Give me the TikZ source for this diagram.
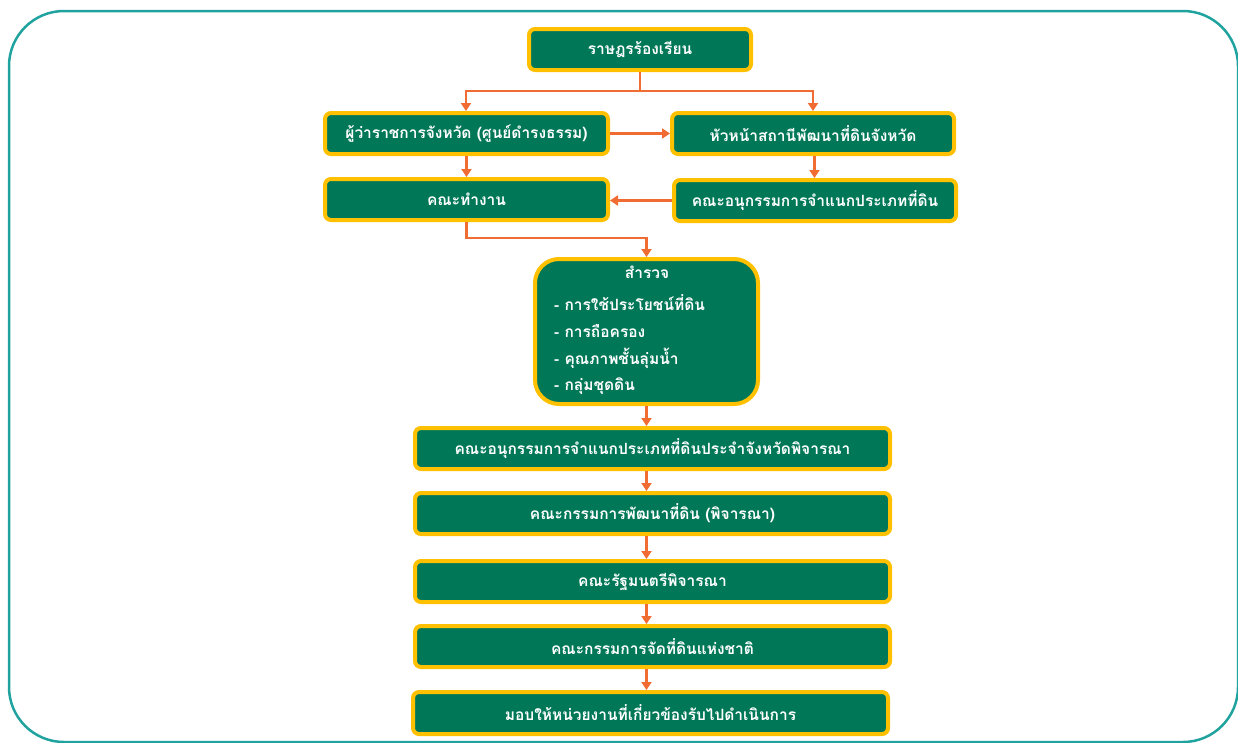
\documentclass[tikz,border=0pt]{standalone}
\usepackage{fontspec}
\newfontfamily\thaifont[Script=Thai]{Loma}
\usetikzlibrary{arrows.meta}
\definecolor{boxgreen}{RGB}{0,120,88}
\definecolor{boxyellow}{RGB}{255,192,0}
\definecolor{arrorange}{RGB}{240,108,50}
\definecolor{frameteal}{RGB}{32,163,158}
\tikzset{
  box/.style={draw=boxyellow, line width=4pt, fill=boxgreen, rounded corners=6pt,
    text=white, font=\thaifont\bfseries\fontsize{15.5}{18}\selectfont, inner sep=0pt},
  txt/.style={text=white, font=\thaifont\bfseries\fontsize{15.5}{18}\selectfont, inner sep=0pt},
  conn/.style={draw=arrorange, line width=2.4pt, -{Triangle[length=8pt,width=10pt]}},
  connplain/.style={draw=arrorange, line width=2.4pt}
}
\begin{document}
\begin{tikzpicture}[x=1pt,y=-1pt]
\useasboundingbox (0,0) rectangle (1238,742);
\draw[frameteal, line width=2.5pt, rounded corners=55pt] (9,11) rectangle (1238,742);

\node[box, minimum width=222pt, minimum height=41pt] (b1) at (640,49.5) {ราษฎรร้องเรียน};
\node[box, minimum width=283pt, minimum height=41pt] (b2) at (466.5,133.5) {ผู้ว่าราชการจังหวัด (ศูนย์ดำรงธรรม)};
\node[box, minimum width=282pt, minimum height=41pt] (b3) at (813,133.5) {หัวหน้าสถานีพัฒนาที่ดินจังหวัด};
\node[box, minimum width=283pt, minimum height=41pt] (b4) at (466.5,199.5) {คณะทำงาน};
\node[box, minimum width=282pt, minimum height=41pt] (b5) at (815,200.5) {คณะอนุกรรมการจำแนกประเภทที่ดิน};
\node[box, rounded corners=24pt, minimum width=223pt, minimum height=145pt] (b6) at (646.5,331.5) {};
\node[txt] (s0) at (647,272) {สำรวจ};
\node[txt, anchor=west] (s1) at (554,303) {- การใช้ประโยชน์ที่ดิน};
\node[txt, anchor=west] (s2) at (554,331) {- การถือครอง};
\node[txt, anchor=west] (s3) at (554,358) {- คุณภาพชั้นลุ่มน้ำ};
\node[txt, anchor=west] (s4) at (554,386) {- กลุ่มชุดดิน};
\node[box, minimum width=475pt, minimum height=41pt] (b7) at (652.5,448.5) {คณะอนุกรรมการจำแนกประเภทที่ดินประจำจังหวัดพิจารณา};
\node[box, minimum width=475pt, minimum height=41pt] (b8) at (652.5,513.5) {คณะกรรมการพัฒนาที่ดิน (พิจารณา)};
\node[box, minimum width=475pt, minimum height=41pt] (b9) at (652.5,581.5) {คณะรัฐมนตรีพิจารณา};
\node[box, minimum width=475pt, minimum height=41pt] (b10) at (652.5,646.5) {คณะกรรมการจัดที่ดินแห่งชาติ};
\node[box, minimum width=475pt, minimum height=42pt] (b11) at (650.5,713) {มอบให้หน่วยงานที่เกี่ยวข้องรับไปดำเนินการ};

\coordinate (j1) at (640,91);
\draw[connplain] (b1.south) -- (j1);
\draw[conn] (j1) -| ([xshift=-0.5pt]b2.north);
\draw[conn] (j1) -| (b3.north);
\draw[conn] (b2.east) -- (b3.west);
\draw[conn] (b2.south) -- (b4.north);
\draw[conn] ([xshift=1.5pt]b3.south) -- ([xshift=-0.5pt]b5.north);
\draw[conn] (b5.west) -- (b5.west -| b4.east);
\coordinate (j2) at (466.5,238);
\draw[conn] (b4.south) -- (j2) -| (b6.north);
\draw[conn] (b6.south) -- (b6.south |- b7.north);
\draw[conn] (b6.south |- b7.south) -- (b6.south |- b8.north);
\draw[conn] (b6.south |- b8.south) -- (b6.south |- b9.north);
\draw[conn] (b6.south |- b9.south) -- (b6.south |- b10.north);
\draw[conn] (b6.south |- b10.south) -- (b6.south |- b11.north);
\end{tikzpicture}
\end{document}
